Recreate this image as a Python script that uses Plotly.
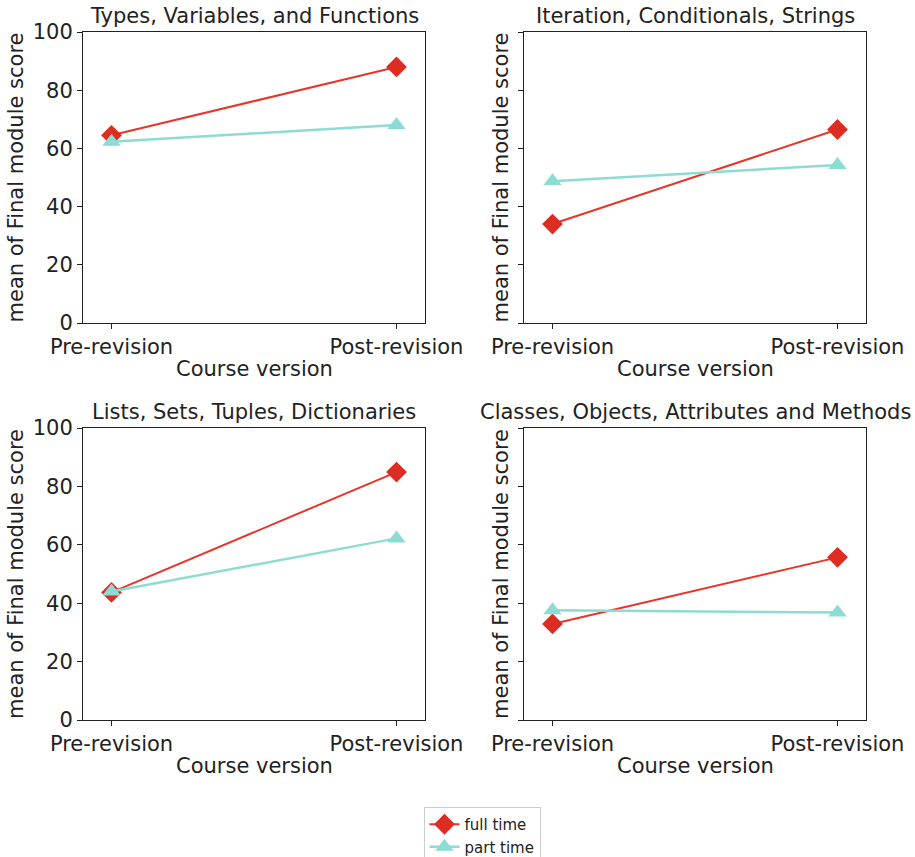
import plotly.graph_objects as go

course_versions = ["Pre-revision", "Post-revision"]
panel_titles = [
    "Types, Variables, and Functions",
    "Iteration, Conditionals, Strings",
    "Lists, Sets, Tuples, Dictionaries",
    "Classes, Objects, Attributes and Methods",
]
full_time = [
    [64.5, 88.0],
    [34.0, 66.5],
    [43.7, 84.9],
    [32.9, 55.7],
]
part_time = [
    [62.3, 68.0],
    [48.7, 54.3],
    [44.0, 62.2],
    [37.6, 36.8],
]
y_ticks = [0, 20, 40, 60, 80, 100]

RED = "#dd2c21"
RED_LINE = "#e8352b"
CYAN = "#8cdcd3"
TXT = "#222222"
FONT = "DejaVu Sans"

W, H = 915, 857


def px(x):
    return x / W


def py(y):
    return 1 - y / H


# panel boxes in window pixels: (x0, x1, y_top, y_bottom)
boxes = [
    (83, 425, 32, 323),
    (524, 866, 32, 323),
    (83, 425, 428, 720),
    (524, 866, 428, 720),
]

fig = go.Figure()
annotations = []
x_idx = list(range(len(course_versions)))

for i in range(4):
    ax = "" if i == 0 else str(i + 1)
    x0, x1, yt, yb = boxes[i]
    fig.add_trace(go.Scatter(
        x=x_idx, y=full_time[i], mode="lines+markers", name="full time",
        line=dict(color=RED_LINE, width=2),
        marker=dict(symbol="diamond", size=16, color=RED),
        xaxis="x" + ax, yaxis="y" + ax, showlegend=(i == 0), legendgroup="ft",
    ))
    fig.add_trace(go.Scatter(
        x=x_idx, y=part_time[i], mode="lines+markers", name="part time",
        line=dict(color=CYAN, width=2.5),
        marker=dict(symbol="triangle-up", size=16, color=CYAN),
        xaxis="x" + ax, yaxis="y" + ax, showlegend=(i == 0), legendgroup="pt",
    ))
    show_labels = (i % 2 == 0)
    fig.layout["xaxis" + ax] = dict(
        domain=[px(x0), px(x1)], anchor="y" + ax, range=[-0.1, 1.1],
        tickvals=x_idx, ticktext=course_versions, automargin=False,
        showline=True, linecolor=TXT, linewidth=1, mirror=True,
        ticks="outside", ticklen=5, tickcolor=TXT, showgrid=False, zeroline=False,
        tickfont=dict(family=FONT, size=21, color=TXT),
    )
    fig.layout["yaxis" + ax] = dict(
        domain=[py(yb), py(yt)], anchor="x" + ax, range=[0, 100],
        tickvals=y_ticks, showticklabels=show_labels, automargin=False,
        showline=True, linecolor=TXT, linewidth=1, mirror=True,
        ticks="outside", ticklen=5, tickcolor=TXT, showgrid=False, zeroline=False,
        tickfont=dict(family=FONT, size=21, color=TXT),
    )
    # subplot title
    annotations.append(dict(
        text=panel_titles[i], xref="paper", yref="paper",
        x=px((x0 + x1) / 2), y=py(yt - 16), xanchor="center", yanchor="middle",
        showarrow=False, font=dict(family=FONT, size=21, color=TXT),
    ))
    # x axis title
    annotations.append(dict(
        text="Course version", xref="paper", yref="paper",
        x=px((x0 + x1) / 2), y=py(yb + 46), xanchor="center", yanchor="middle",
        showarrow=False, font=dict(family=FONT, size=21, color=TXT),
    ))
    # y axis title
    ytx = 16 if i % 2 == 0 else 501
    annotations.append(dict(
        text="mean of Final module score", xref="paper", yref="paper",
        x=px(ytx), y=py((yt + yb) / 2), xanchor="center", yanchor="middle",
        textangle=-90, showarrow=False, font=dict(family=FONT, size=21, color=TXT),
    ))

fig.update_layout(
    width=W, height=H,
    margin=dict(l=0, r=0, t=0, b=0, autoexpand=False),
    paper_bgcolor="white", plot_bgcolor="white",
    annotations=annotations,
    showlegend=True,
    legend=dict(
        x=px(482), y=py(807), xanchor="center", yanchor="top",
        bordercolor="#cccccc", borderwidth=1, bgcolor="white",
        font=dict(family=FONT, size=15, color=TXT),
        tracegroupgap=0,
    ),
)

fig.write_html(
    "out.html",
    config={"displayModeBar": False},
    post_script="document.body.style.margin='0';document.body.style.padding='0';",
)
